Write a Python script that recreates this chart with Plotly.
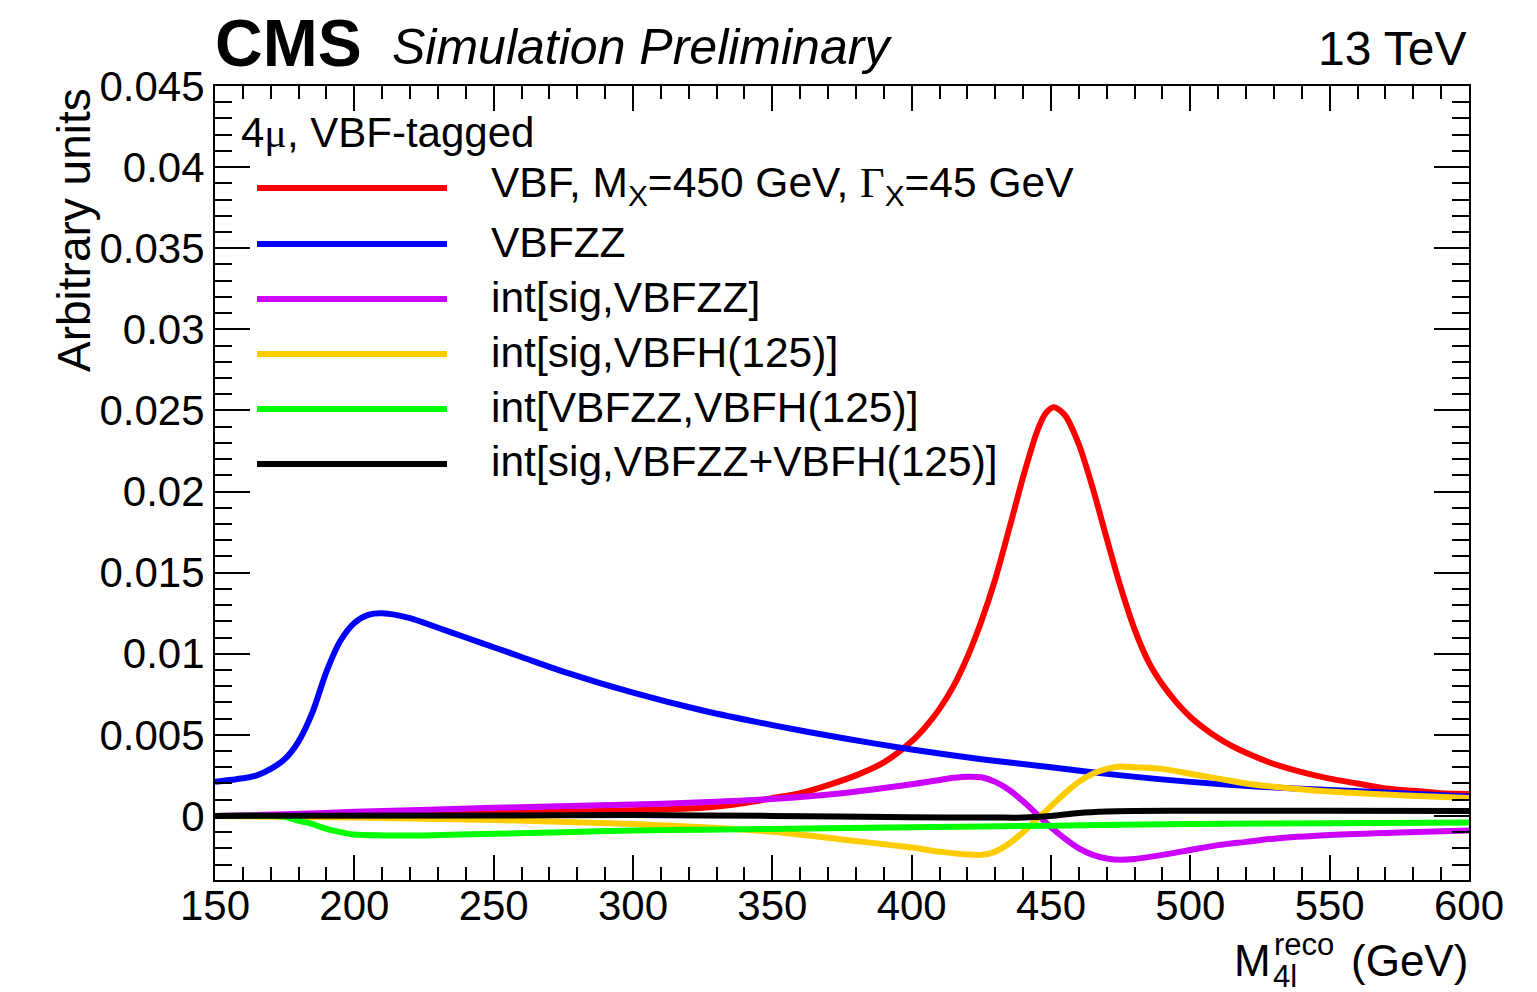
import plotly.graph_objects as go

# ---------------- data ----------------
sig_x = [150, 200, 250, 275, 300, 325, 340, 350, 360, 370, 380, 390, 400, 405, 410, 415, 420, 425,
         430, 435, 440, 445, 448, 451, 455, 460, 465, 470, 475, 480, 485, 490, 495, 500, 505, 510,
         515, 520, 530, 540, 550, 560, 570, 580, 590, 600]
sig_y = [0.0, 0.0001, 0.00018, 0.00025, 0.00035, 0.0005, 0.0008, 0.0011, 0.0014, 0.0019, 0.0025,
         0.0033, 0.0046, 0.0055, 0.0066, 0.0080, 0.0098, 0.0120, 0.0146, 0.0177, 0.0209, 0.0237,
         0.0248, 0.0252, 0.0247, 0.0229, 0.0202, 0.0171, 0.0141, 0.0115, 0.0095, 0.0081, 0.0070,
         0.0061, 0.0054, 0.0048, 0.0043, 0.0039, 0.0032, 0.0027, 0.0023, 0.0020, 0.0017, 0.00155,
         0.0014, 0.00135]

zz_x = [150, 160, 165, 170, 175, 180, 185, 190, 195, 200, 205, 210, 220, 230, 240, 250, 260, 275,
        300, 325, 350, 375, 400, 425, 450, 475, 500, 525, 550, 575, 600]
zz_y = [0.0021, 0.00232, 0.0025, 0.0029, 0.0035, 0.0046, 0.0064, 0.0089, 0.0108, 0.0119, 0.0124,
        0.0125, 0.0122, 0.0116, 0.0110, 0.0104, 0.0098, 0.0089, 0.0076, 0.0065, 0.0056, 0.0048,
        0.0041, 0.0035, 0.0030, 0.0025, 0.0021, 0.0018, 0.0016, 0.0014, 0.0012]

isz_x = [150, 175, 200, 250, 300, 325, 350, 375, 400, 410, 415, 420, 425, 430, 435, 440, 445,
         450, 455, 460, 465, 470, 475, 480, 490, 500, 510, 520, 530, 550, 575, 600]
isz_y = [0.0, 0.0001, 0.00025, 0.0005, 0.0007, 0.00085, 0.00105, 0.0014, 0.00195, 0.00222,
         0.00235, 0.00242, 0.00238, 0.0021, 0.0016, 0.0009, 0.0001, -0.0007, -0.0014, -0.0020,
         -0.0024, -0.00262, -0.0027, -0.00265, -0.0024, -0.0021, -0.0018, -0.0016, -0.0014,
         -0.00118, -0.00102, -0.0009]

ish_x = [150, 200, 250, 300, 325, 350, 375, 400, 410, 420, 425, 430, 435, 440, 445, 450, 455, 460,
         465, 470, 475, 480, 490, 500, 510, 520, 530, 550, 575, 600]
ish_y = [0.0, -0.0001, -0.00025, -0.0005, -0.0007, -0.00098, -0.00145, -0.00195, -0.0022,
         -0.00238, -0.0024, -0.0022, -0.0017, -0.0010, -0.0002, 0.0006, 0.0014, 0.0021, 0.0026,
         0.0029, 0.00305, 0.0030, 0.0029, 0.0026, 0.0023, 0.0020, 0.0018, 0.0015, 0.00128, 0.0011]

izh_x = [150, 170, 175, 180, 185, 190, 195, 200, 210, 225, 250, 275, 300, 325, 350, 400, 450, 500,
         550, 600]
izh_y = [0.0, 0.0, -0.00005, -0.0003, -0.0005, -0.0008, -0.001, -0.00115, -0.0012, -0.0012,
         -0.0011, -0.001, -0.0009, -0.00085, -0.0008, -0.0007, -0.0006, -0.0005, -0.00045, -0.0004]

iall_x = [150, 250, 300, 350, 400, 430, 440, 450, 460, 470, 480, 500, 550, 600]
iall_y = [0.0, 0.00003, 0.00005, 0.0, -0.00008, -0.0001, -0.0001, 0.0, 0.00018, 0.00027, 0.0003,
          0.00032, 0.00032, 0.0003]

x_tickvals = [150, 200, 250, 300, 350, 400, 450, 500, 550, 600]
x_ticktext = ["150", "200", "250", "300", "350", "400", "450", "500", "550", "600"]
y_tickvals = [0, 0.005, 0.01, 0.015, 0.02, 0.025, 0.03, 0.035, 0.04, 0.045]
y_ticktext = ["0", "0.005", "0.01", "0.015", "0.02", "0.025", "0.03", "0.035", "0.04", "0.045"]

SERIF = "'Liberation Serif', 'DejaVu Serif', serif"
names = [
    "VBF, M<sub>X</sub>=450 GeV, <span style=\"font-family:" + SERIF + "\">Γ</span><sub>X</sub>=45 GeV",
    "VBFZZ",
    "int[sig,VBFZZ]",
    "int[sig,VBFH(125)]",
    "int[VBFZZ,VBFH(125)]",
    "int[sig,VBFZZ+VBFH(125)]",
]
colors = ["#FF0000", "#0000FF", "#CC00FF", "#FFCC00", "#00FF00", "#000000"]
series = [(sig_x, sig_y), (zz_x, zz_y), (isz_x, isz_y), (ish_x, ish_y), (izh_x, izh_y),
          (iall_x, iall_y)]

# ---------------- figure ----------------
W, H = 1537, 992
L, R, T, B = 215, 68, 86, 112
PW, PH = W - L - R, H - T - B


def px(xp):
    return (xp - L) / PW


def py(yp):
    return (H - B - yp) / PH


FONT = "'Liberation Sans', Arial, Helvetica, sans-serif"

fig = go.Figure()
for (xs, ys), c, n in zip(series, colors, names):
    fig.add_trace(go.Scatter(x=xs, y=ys, mode="lines", name=n,
                             line=dict(color=c, width=6, shape="spline", smoothing=0.8),
                             showlegend=False))

fig.update_layout(
    width=W, height=H, autosize=False,
    margin=dict(l=L, r=R, t=T, b=B, pad=0),
    paper_bgcolor="white", plot_bgcolor="white",
    font=dict(family=FONT, color="black", size=42),
    showlegend=False,
)

fig.update_xaxes(
    range=[150, 600], showgrid=False, zeroline=False,
    showline=True, linecolor="black", linewidth=2, mirror="allticks",
    ticks="inside", ticklen=25, tickwidth=2, tickcolor="black",
    tickvals=x_tickvals, ticktext=x_ticktext,
    tickfont=dict(size=42, family=FONT), ticklabelstandoff=-12,
    minor=dict(ticks="inside", dtick=10, tick0=150, ticklen=13, tickwidth=2, tickcolor="black",
               showgrid=False),
)
fig.update_yaxes(
    range=[-0.00395, 0.045], showgrid=False, zeroline=False,
    showline=True, linecolor="black", linewidth=2, mirror="allticks",
    ticks="inside", ticklen=35, tickwidth=2, tickcolor="black",
    tickvals=y_tickvals, ticktext=y_ticktext,
    tickfont=dict(size=42, family=FONT), ticklabelstandoff=0,
    minor=dict(ticks="inside", dtick=0.001, tick0=0, ticklen=17, tickwidth=2, tickcolor="black",
               showgrid=False),
)

ann = []
# CMS header
ann.append(dict(text="<b>CMS</b>", x=px(213), y=py(43), xanchor="left", yanchor="middle",
                font=dict(size=66, family=FONT)))
ann.append(dict(text="<i>Simulation Preliminary</i>", x=px(390), y=py(47), xanchor="left",
                yanchor="middle", font=dict(size=50, family=FONT)))
ann.append(dict(text="13 TeV", x=px(1469), y=py(48), xanchor="right", yanchor="middle",
                font=dict(size=48, family=FONT)))
# category label
ann.append(dict(text="4<span style=\"font-family:" + SERIF + "\">μ</span>, VBF-tagged",
                x=px(239), y=py(132), xanchor="left", yanchor="middle",
                font=dict(size=42, family=FONT)))
# axis titles
ann.append(dict(text="Arbitrary units", x=px(74), y=py(86), xanchor="center", yanchor="top",
                textangle=-90, font=dict(size=46, family=FONT)))
ann.append(dict(text="(GeV)", x=px(1470), y=py(960), xanchor="right", yanchor="middle",
                font=dict(size=44, family=FONT)))
ann.append(dict(text="M", x=px(1273), y=py(960), xanchor="right", yanchor="middle",
                font=dict(size=44, family=FONT)))
ann.append(dict(text="reco", x=px(1272), y=py(944), xanchor="left", yanchor="middle",
                font=dict(size=31, family=FONT)))
ann.append(dict(text="4l", x=px(1271), y=py(976), xanchor="left", yanchor="middle",
                font=dict(size=31, family=FONT)))

# legend (manual, to match long line samples)
row_y = [188, 244, 299, 354, 409, 464]
shapes = []
for ry, c, n in zip(row_y, colors, names):
    shapes.append(dict(type="line", xref="paper", yref="paper", x0=px(257), x1=px(447),
                       y0=py(ry), y1=py(ry), line=dict(color=c, width=6)))
    ann.append(dict(text=n, x=px(489), y=py(ry - 2), xanchor="left", yanchor="middle",
                    font=dict(size=42.5, family=FONT)))

for a in ann:
    a.update(xref="paper", yref="paper", showarrow=False)
fig.update_layout(annotations=ann, shapes=shapes)

fig.write_html("out.html")
